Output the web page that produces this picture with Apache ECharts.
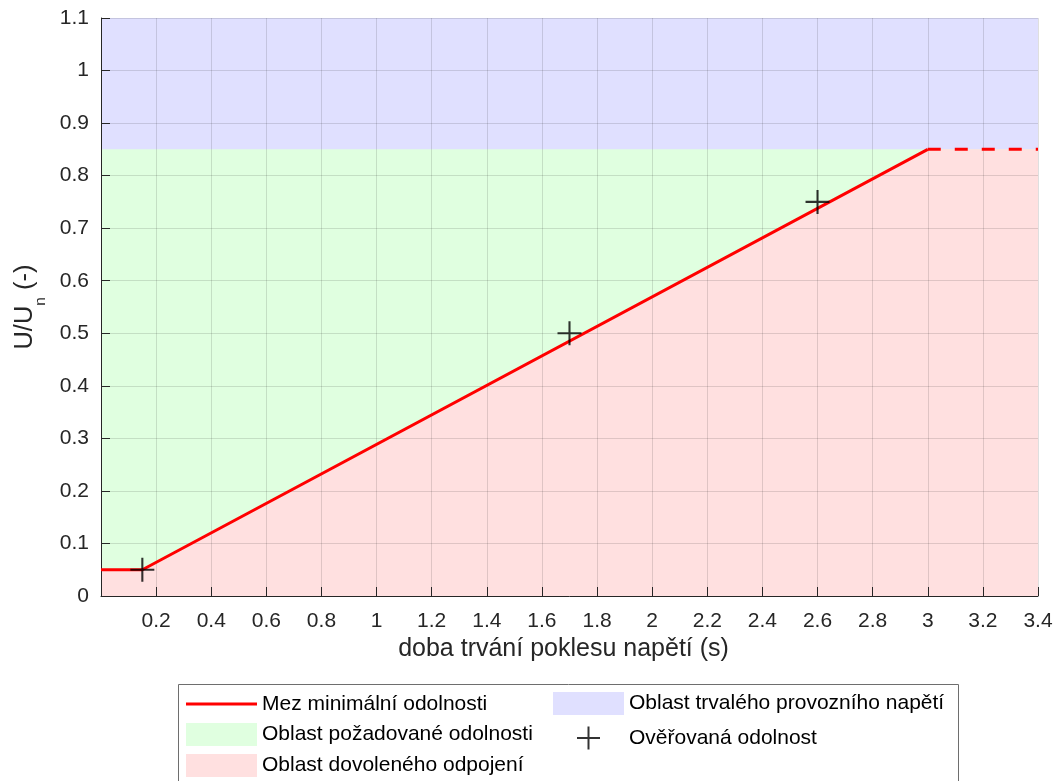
<!DOCTYPE html>
<html>
<head>
<meta charset="utf-8">
<script src="https://cdn.jsdelivr.net/npm/echarts@6/dist/echarts.min.js"></script>
<style>
  html, body { margin: 0; padding: 0; background: #fff; }
  #chart { width: 1058px; height: 781px; }
</style>
</head>
<body>
<div id="chart"></div>
<script>
// Minimum withstand limit (solid part), duration in s vs. U/Un
const limitT = [0, 0.15, 3.0];
const limitU = [0.05, 0.05, 0.85];
// Continuation of the limit beyond 3 s (dashed)
const tailT = [3.0, 3.4];
const tailU = [0.85, 0.85];
// Verified withstand points
const testT = [0.15, 1.7, 2.6];
const testU = [0.05, 0.5, 0.75];
// Region bounds
const ratedU = 0.85;
const topU = 1.1;
const tMax = 3.4;

const names = {
  limit: 'Mez minimální odolnosti',
  rated: 'Oblast trvalého provozního napětí',
  required: 'Oblast požadované odolnosti',
  allowed: 'Oblast dovoleného odpojení',
  tested: 'Ověřovaná odolnost'
};

const FONT = "'Liberation Sans', Arial, sans-serif";
const AXIS_COLOR = '#262626';
// "+" marker drawn as a filled cross
const plusIcon = 'path://M10.5,0 H12.5 V10.5 H23 V12.5 H12.5 V23 H10.5 V12.5 H0 V10.5 H10.5 Z';
// Same cross centred in a 71x23 legend slot (two invisible specks fix the bounds)
const plusLegendIcon = 'path://M0,0 h0.01 v0.01 h-0.01 Z M70.99,22.99 h0.01 v0.01 h-0.01 Z ' +
  'M34.5,0 H36.5 V10.5 H47 V12.5 H36.5 V23 H34.5 V12.5 H24 V10.5 H34.5 Z';

const pairs = (xs, ys) => xs.map((x, i) => [x, ys[i]]);
const boundary = pairs(limitT, limitU).concat(pairs(tailT, tailU).slice(1));

const areaSeries = (name, color, data) => ({
  name: name,
  type: 'line',
  data: data,
  color: color,
  symbol: 'none',
  lineStyle: { width: 0 },
  areaStyle: { color: color, opacity: 1, origin: 'start' },
  silent: true,
  z: 1
});

const chart = echarts.init(document.getElementById('chart'), null, { renderer: 'canvas' });

const legendText = { fontFamily: FONT, fontSize: 21, color: '#000', lineHeight: 21 };
const legendBase = {
  selectedMode: false,
  padding: 0,
  itemGap: 8,
  textStyle: legendText
};

chart.setOption({
  animation: false,
  textStyle: { fontFamily: FONT },
  grid: { left: 101, right: 20, top: 18, bottom: 185, containLabel: false },
  xAxis: {
    type: 'value',
    min: 0,
    max: tMax,
    interval: 0.2,
    z: 3,
    name: 'doba trvání poklesu napětí (s)',
    nameLocation: 'middle',
    nameGap: 35,
    nameTextStyle: { fontFamily: FONT, fontSize: 25, color: AXIS_COLOR, padding: [0, 12, 0, 0] },
    axisLine: { show: true, lineStyle: { color: AXIS_COLOR, width: 1 } },
    axisTick: { show: true, inside: true, length: 9, lineStyle: { color: AXIS_COLOR } },
    axisLabel: {
      margin: 15,
      fontSize: 21,
      color: AXIS_COLOR,
      fontFamily: FONT,
      formatter: v => (v === 0 ? '' : String(Math.round(v * 10) / 10))
    },
    splitLine: { show: true, lineStyle: { color: 'rgba(38,38,38,0.15)', width: 1 } }
  },
  yAxis: {
    type: 'value',
    min: 0,
    max: topU,
    interval: 0.1,
    z: 3,
    name: '{u|U/U}{n|n}{u| (-)}',
    nameLocation: 'middle',
    nameRotate: 90,
    nameGap: 55,
    nameTextStyle: {
      fontFamily: FONT,
      color: AXIS_COLOR,
      rich: {
        u: { fontFamily: FONT, fontSize: 25.5, lineHeight: 29, verticalAlign: 'top', color: AXIS_COLOR },
        n: { fontFamily: FONT, fontSize: 15.5, lineHeight: 15, verticalAlign: 'top', padding: [21, 0, 0, 0], color: AXIS_COLOR }
      }
    },
    axisLine: { show: true, lineStyle: { color: AXIS_COLOR, width: 1 } },
    axisTick: { show: true, inside: true, length: 9, lineStyle: { color: AXIS_COLOR } },
    axisLabel: {
      margin: 12,
      fontSize: 21,
      color: AXIS_COLOR,
      fontFamily: FONT,
      formatter: v => String(Math.round(v * 10) / 10)
    },
    splitLine: { show: true, lineStyle: { color: 'rgba(38,38,38,0.15)', width: 1 } }
  },
  legend: [
    Object.assign({}, legendBase, {
      left: 186, top: 693.5,
      itemWidth: 71, itemHeight: 3,
      data: [{ name: names.limit, icon: 'rect' }]
    }),
    Object.assign({}, legendBase, {
      left: 186, top: 723, orient: 'vertical',
      itemWidth: 71, itemHeight: 23,
      data: [{ name: names.required, icon: 'rect' }, { name: names.allowed, icon: 'rect' }]
    }),
    Object.assign({}, legendBase, {
      left: 553, top: 692,
      itemWidth: 71, itemHeight: 23,
      data: [{ name: names.rated, icon: 'rect' }]
    }),
    Object.assign({}, legendBase, {
      left: 553, top: 726.5,
      itemWidth: 71, itemHeight: 23,
      symbolKeepAspect: false,
      data: [{ name: names.tested, icon: plusLegendIcon }]
    })
  ],
  graphic: [{
    type: 'rect',
    z: 0,
    shape: { x: 178.5, y: 684.5, width: 780, height: 130 },
    style: { fill: null, stroke: '#6e6e6e', lineWidth: 1 },
    silent: true
  }],
  series: [
    areaSeries(names.rated, '#e0e0ff', [[0, topU], [tMax, topU]]),
    areaSeries(names.required, '#e0ffe0', [[0, ratedU], [tMax, ratedU]]),
    areaSeries(names.allowed, '#ffe0e0', boundary),
    {
      name: names.limit,
      type: 'line',
      data: pairs(limitT, limitU),
      color: '#ff0000',
      symbol: 'none',
      lineStyle: { color: '#ff0000', width: 3 },
      z: 4
    },
    {
      name: 'tail',
      type: 'line',
      data: pairs(tailT, tailU),
      color: '#ff0000',
      symbol: 'none',
      lineStyle: { color: '#ff0000', width: 3, type: [13, 14] },
      z: 4
    },
    {
      name: names.tested,
      type: 'scatter',
      data: pairs(testT, testU),
      symbol: plusIcon,
      symbolSize: 24,
      symbolKeepAspect: true,
      color: '#000',
      itemStyle: { color: '#000' },
      z: 5
    }
  ]
});
</script>
</body>
</html>
